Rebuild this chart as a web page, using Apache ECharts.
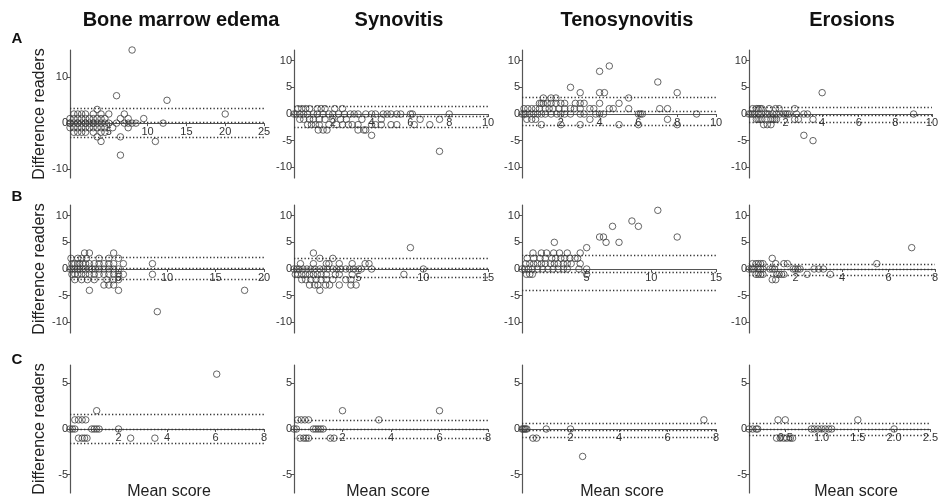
<!DOCTYPE html>
<html><head><meta charset="utf-8">
<script src="https://cdn.jsdelivr.net/npm/echarts@6/dist/echarts.min.js"></script>
<style>html,body{margin:0;padding:0;background:#fff}#c{width:941px;height:504px}</style>
</head><body><div id="c"></div>
<script>
// ---- labels ----
const columnTitles = ['Bone marrow edema', 'Synovitis', 'Tenosynovitis', 'Erosions'];
const rowLetters = ['A', 'B', 'C'];
const yName = 'Difference readers';
const xName = 'Mean score';

// ---- axis ranges per row (x max per column, y min/max, tick values) ----
const xMaxA = [25, 10, 10, 10];
const xStepA = [5, 2, 2, 2];
const xMaxB = [20, 15, 15, 8];
const xStepB = [5, 5, 5, 2];
const xMaxC = [8, 8, 8, 2.5];
const xStepC = [2, 2, 2, 0.5];
const yRangeA = [[-12, 16], [-12, 12], [-12, 12], [-12, 12]];
const yRangeB = [[-12, 12], [-12, 12], [-12, 12], [-12, 12]];
const yRangeC = [[-7, 7], [-7, 7], [-7, 7], [-7, 7]];
const yTicksA = [[-10, 0, 10], [-10, -5, 0, 5, 10], [-10, -5, 0, 5, 10], [-10, -5, 0, 5, 10]];
const yTicksB = [[-10, -5, 0, 5, 10], [-10, -5, 0, 5, 10], [-10, -5, 0, 5, 10], [-10, -5, 0, 5, 10]];
const yTicksC = [[-5, 0, 5], [-5, 0, 5], [-5, 0, 5], [-5, 0, 5]];

// ---- limits of agreement: [upper, mean, lower] ----
const limitsA = [[3.2, 0.1, -3.0], [1.5, -0.45, -2.4], [3.1, 0.45, -2.1], [1.2, -0.15, -1.6]];
const limitsB = [[2.15, 0.05, -2.0], [2.0, 0.2, -1.55], [2.5, -0.6, -3.9], [0.95, -0.1, -1.2]];
const limitsC = [[1.6, 0, -1.6], [1.0, 0, -1.0], [0.65, -0.1, -0.85], [0.6, -0.05, -0.7]];

// ---- data [mean score, difference] ----
const bmeA = [[0,0],[0,0],[0.5,0],[1,0],[1,0],[1.5,0],[2,0],[2,0],[2.5,0],[3,0],[3,0],[3.5,0],[4,0],[4.5,0],[5,0],[6,0],[7,0],[7.5,0],[8,0],[8.5,0],[12,0],
[0,1],[0.5,1],[1,1],[1.5,1],[2,1],[2.5,1],[3,1],[3.5,1],[4,1],[4.5,1],[6.5,1],[7.5,1],[9.5,1],
[0,-1],[0.5,-1],[1,-1],[1.5,-1],[2,-1],[2.5,-1],[3,-1],[3.5,-1],[4,-1],[4.5,-1],[5.5,-1],[7.5,-1],
[0.5,2],[1,2],[1.5,2],[2,2],[3,2],[4,2],[5,2],[7,2],[20,2],
[0.5,-2],[1,-2],[1.5,-2],[2,-2],[3,-2],[4,-2],[4.5,-2],
[3.5,3],[3.5,-3],[6.5,-3],[4,-4],[11,-4],[6.5,-7],[6,6],[12.5,5],[8,16]];
const synA = [[0.2,1],[0.4,1],[0.6,1],[0.8,1],[1.2,1],[1.4,1],[1.6,1],[2.1,1],[2.5,1],
[0,0],[0.1,0],[0.3,0],[0.5,0],[0.7,0],[1,0],[1.2,0],[1.5,0],[1.8,0],[2,0],[2.3,0],[2.6,0],[2.9,0],[3.1,0],[3.3,0],[3.7,0],[4,0],[4.2,0],[4.6,0],[4.8,0],[5,0],[5.3,0],[5.5,0],[6,0],[6.1,0],[8,0],
[0.3,-1],[0.5,-1],[0.8,-1],[1,-1],[1.3,-1],[1.6,-1],[2,-1],[2.4,-1],[2.7,-1],[3.5,-1],[4.5,-1],[6.5,-1],[7.5,-1],
[0.7,-2],[0.9,-2],[1.1,-2],[1.3,-2],[1.8,-2],[2.2,-2],[2.5,-2],[2.8,-2],[3,-2],[3.3,-2],[4,-2],[4.2,-2],[4.5,-2],[5,-2],[5.3,-2],[6.2,-2],[7,-2],
[1.25,-3],[1.5,-3],[1.7,-3],[3.3,-3],[3.6,-3],[3.7,-3],[4,-4],[7.5,-7]];
const tenA = [[0,0],[0.1,0],[0.2,0],[0.4,0],[0.6,0],[0.8,0],[1,0],[1.2,0],[1.5,0],[1.8,0],[2,0],[2.2,0],[2.5,0],[3,0],[3.2,0],[3.8,0],[4,0],[4.2,0],[6,0],[6.1,0],[6.2,0],[9,0],
[0.1,1],[0.3,1],[0.5,1],[0.7,1],[0.9,1],[1.2,1],[1.4,1],[1.6,1],[1.9,1],[2.2,1],[2.5,1],[2.7,1],[3,1],[3.5,1],[3.7,1],[4.5,1],[4.7,1],[5.5,1],[7.1,1],[7.5,1],
[0.9,2],[1,2],[1.1,2],[1.3,2],[1.5,2],[1.75,2],[2,2],[2.2,2],[2.75,2],[3,2],[3.2,2],[4,2],[5,2],
[1.1,3],[1.5,3],[1.75,3],[5.5,3],[3,4],[4,4],[4.25,4],[8,4],[2.5,5],[7,6],[4,8],[4.5,9],
[0.25,-1],[0.5,-1],[0.7,-1],[3.5,-1],[7.5,-1],
[1,-2],[2,-2],[3,-2],[5,-2],[6,-2],[8,-2]];
const eroA = [[0,0],[0.1,0],[0.2,0],[0.3,0],[0.5,0],[0.7,0],[0.9,0],[1,0],[1.1,0],[1.3,0],[1.5,0],[1.7,0],[1.9,0],[2,0],[2.1,0],[2.2,0],[2.6,0],[3,0],[3.2,0],[9,0],
[0.2,1],[0.4,1],[0.5,1],[0.6,1],[0.7,1],[1.1,1],[1.45,1],[1.65,1],[2.5,1],
[0.4,-1],[0.5,-1],[0.6,-1],[0.7,-1],[1.2,-1],[1.3,-1],[1.4,-1],[1.5,-1],[2.5,-1],[2.7,-1],[3.5,-1],
[0.8,-2],[1,-2],[1.2,-2],[4,4],[3,-4],[3.5,-5]];

const bmeB = [[0,0],[0.2,0],[0.5,0],[0.8,0],[1,0],[1.3,0],[1.6,0],[2,0],[2.3,0],[2.6,0],[3,0],[3.5,0],[4,0],[4.5,0],[5,0],
[0.2,1],[0.5,1],[0.8,1],[1,1],[1.3,1],[1.6,1],[2,1],[2.5,1],[3,1],[3.5,1],[4,1],[4.5,1],[5.5,1],[8.5,1],
[0.2,-1],[0.5,-1],[0.8,-1],[1.2,-1],[1.6,-1],[2,-1],[2.5,-1],[3,-1],[3.5,-1],[4,-1],[4.5,-1],[5,-1],[5.5,-1],[8.5,-1],
[0.1,2],[0.8,2],[1.2,2],[1.7,2],[3,2],[4,2],[5,2],
[0.5,-2],[1.2,-2],[1.8,-2],[2.5,-2],[3.8,-2],[4.5,-2],[5,-2],
[1.5,3],[2,3],[4.5,3],[3.5,-3],[4,-3],[4.5,-3],[2,-4],[5,-4],[18,-4],[9,-8]];
const synB = [[0,0],[0.2,0],[0.4,0],[0.7,0],[1,0],[1.3,0],[1.6,0],[2,0],[2.3,0],[2.6,0],[3,0],[3.3,0],[3.6,0],[4,0],[4.3,0],[4.6,0],[5,0],[5.2,0],[6,0],[10,0],
[0.5,1],[1.5,1],[2.5,1],[2.7,1],[3.5,1],[4.5,1],[5.5,1],[5.8,1],
[0.1,-1],[0.3,-1],[0.6,-1],[0.9,-1],[1.2,-1],[1.5,-1],[1.8,-1],[2.1,-1],[2.5,-1],[3.2,-1],[3.5,-1],[4.5,-1],[8.5,-1],
[0.6,-2],[0.9,-2],[1.3,-2],[1.7,-2],[2.1,-2],[2.5,-2],[3,-2],[4,-2],[4.4,-2],
[1.2,-3],[1.6,-3],[1.85,-3],[2.45,-3],[2.75,-3],[3.5,-3],[4.4,-3],[4.8,-3],
[2,2],[3,2],[1.5,3],[2,-4],[9,4]];
const tenB = [[0,0],[0.2,0],[0.5,0],[0.8,0],[1.2,0],[1.6,0],[2,0],[2.4,0],[2.8,0],[3.2,0],[3.5,0],[4.4,0],[5,0],
[0.3,1],[0.6,1],[0.9,1],[1.2,1],[1.5,1],[1.8,1],[2.2,1],[2.5,1],[2.8,1],[3.2,1],[3.5,1],[3.8,1],[4.5,1],
[0.4,2],[0.9,2],[1.4,2],[1.8,2],[2.3,2],[2.6,2],[3,2],[3.3,2],[3.7,2],[4.1,2],[4.3,2],
[0.85,3],[1.5,3],[1.9,3],[2.45,3],[2.9,3],[3.5,3],[4.5,3],
[5,4],[2.5,5],[6.5,5],[7.5,5],[6,6],[6.3,6],[12,6],[7,8],[9,8],[8.5,9],[10.5,11],
[0.35,-1],[0.6,-1],[0.8,-1],[5,-1]];
const eroB = [[0,0],[0.1,0],[0.2,0],[0.4,0],[0.5,0],[0.6,0],[0.9,0],[1,0],[1.1,0],[1.9,0],[2,0],[2.1,0],[2.2,0],[2.8,0],[3,0],[3.2,0],
[0.15,1],[0.3,1],[0.4,1],[0.5,1],[0.6,1],[1.15,1],[1.5,1],[1.65,1],[5.5,1],
[0.3,-1],[0.4,-1],[0.5,-1],[0.6,-1],[1.2,-1],[1.3,-1],[1.4,-1],[1.5,-1],[2.5,-1],[3.5,-1],
[1,2],[1,-2],[1.15,-2],[7,4]];

const bmeC = [[0,0],[0.1,0],[0.2,0],[0.9,0],[1,0],[1.1,0],[1.2,0],[2,0],
[0.2,1],[0.35,1],[0.5,1],[0.65,1],[1.1,2],[6.05,6],
[0.35,-1],[0.5,-1],[0.6,-1],[0.7,-1],[2.5,-1],[3.5,-1]];
const synC = [[0,0],[0.1,0],[0.8,0],[0.9,0],[1,0],[1.1,0],[1.2,0],
[0.15,1],[0.3,1],[0.45,1],[0.6,1],[3.5,1],[2,2],[6,2],
[0.25,-1],[0.4,-1],[0.5,-1],[0.6,-1],[1.5,-1],[1.65,-1]];
const tenC = [[0,0],[0.05,0],[0.1,0],[0.15,0],[0.2,0],[1,0],[2,0],
[7.5,1],[0.45,-1],[0.6,-1],[2.5,-3]];
const eroC = [[0,0],[0.05,0],[0.1,0],[0.12,0],[0.86,0],[0.9,0],[0.95,0],[1,0],[1.05,0],[1.1,0],[1.14,0],[2,0],
[0.4,1],[0.5,1],[1.5,1],
[0.38,-1],[0.43,-1],[0.48,-1],[0.52,-1],[0.57,-1],[0.6,-1]];

// ---- assemble ----
const rows = [
  {data: [bmeA, synA, tenA, eroA], xMax: xMaxA, xStep: xStepA, yRange: yRangeA, yTicks: yTicksA, limits: limitsA},
  {data: [bmeB, synB, tenB, eroB], xMax: xMaxB, xStep: xStepB, yRange: yRangeB, yTicks: yTicksB, limits: limitsB},
  {data: [bmeC, synC, tenC, eroC], xMax: xMaxC, xStep: xStepC, yRange: yRangeC, yTicks: yTicksC, limits: limitsC}
];
const colLeft = [70, 294, 522, 749];
const rowTop = [50, 205, 365];
const plotW = 194, plotH = 128;
const axisColor = '#555';
const FONT = '"Liberation Sans", Arial, sans-serif';

const grid = [], xAxis = [], yAxis = [], series = [];
rows.forEach((row, r) => {
  for (let c = 0; c < 4; c++) {
    const i = grid.length;
    grid.push({left: colLeft[c], top: rowTop[r], width: plotW, height: plotH, containLabel: false});
    const step = row.xStep[c];
    const yMin = row.yRange[c][0], yMax = row.yRange[c][1];
    // move the x axis up to the zero line of the difference axis
    const zeroOffset = -plotH * (0 - yMin) / (yMax - yMin);
    xAxis.push({
      gridIndex: i, type: 'value', min: 0, max: row.xMax[c], interval: step,
      position: 'bottom', offset: zeroOffset,
      axisLine: {onZero: false, lineStyle: {color: axisColor, width: 1.2}},
      axisTick: {show: true, length: 3, lineStyle: {color: axisColor}},
      axisLabel: {showMinLabel: false, margin: 3, fontSize: 11, color: '#333', fontFamily: FONT,
        formatter: v => step < 1 ? v.toFixed(1) : String(v)},
      splitLine: {show: false}
    });
    yAxis.push({
      gridIndex: i, type: 'value', min: yMin, max: yMax,
      axisLine: {onZero: false, lineStyle: {color: axisColor, width: 1.2}},
      axisTick: {show: true, length: 3, customValues: row.yTicks[c], lineStyle: {color: axisColor}},
      axisLabel: {margin: 2, fontSize: 11, color: '#333', fontFamily: FONT, customValues: row.yTicks[c]},
      splitLine: {show: false}
    });
    const lim = row.limits[c];
    series.push({
      type: 'scatter', xAxisIndex: i, yAxisIndex: i, data: row.data[c],
      symbol: 'circle', symbolSize: 6.5,
      itemStyle: {color: 'rgba(0,0,0,0)', borderColor: '#404040', borderWidth: 1},
      emphasis: {disabled: true},
      markLine: {
        silent: true, symbol: ['none', 'none'], label: {show: false}, animation: false,
        lineStyle: {color: '#333', type: [1.3, 2.2], width: 1.3},
        data: [{yAxis: lim[0]}, {yAxis: lim[1]}, {yAxis: lim[2]}]
      }
    });
  }
});

const graphic = [];
const titleX = [181, 399, 627, 852];
columnTitles.forEach((t, c) => graphic.push({type: 'text', x: titleX[c], y: 20,
  style: {text: t, fill: '#111', font: 'bold 20px ' + FONT, textAlign: 'center', textVerticalAlign: 'middle', align: 'center', verticalAlign: 'middle'}}));
const letterY = [39, 197, 360];
rowLetters.forEach((t, r) => graphic.push({type: 'text', x: 17, y: letterY[r],
  style: {text: t, fill: '#111', font: 'bold 15px ' + FONT, textAlign: 'center', textVerticalAlign: 'middle', align: 'center', verticalAlign: 'middle'}}));
rowTop.forEach(t => graphic.push({type: 'text', x: 40, y: t + plotH / 2, rotation: Math.PI / 2,
  style: {text: yName, fill: '#222', font: '16px ' + FONT, textAlign: 'center', textVerticalAlign: 'middle', align: 'center', verticalAlign: 'middle'}}));
const meanX = [169, 388, 622, 856];
meanX.forEach(x => graphic.push({type: 'text', x: x, y: 492,
  style: {text: xName, fill: '#222', font: '16px ' + FONT, textAlign: 'center', textVerticalAlign: 'middle', align: 'center', verticalAlign: 'middle'}}));

const chart = echarts.init(document.getElementById('c'), null, {renderer: 'canvas'});
chart.setOption({animation: false, backgroundColor: '#fff', grid, xAxis, yAxis, series, graphic});
</script></body></html>
